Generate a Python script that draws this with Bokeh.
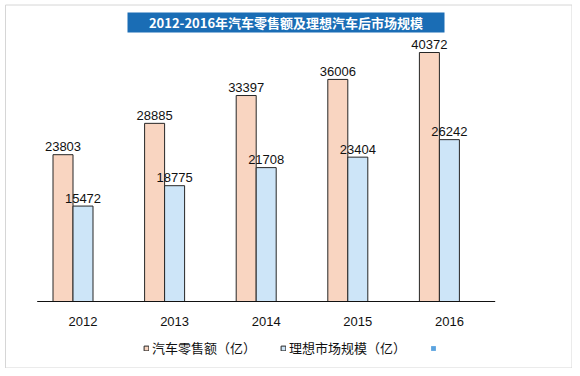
from bokeh.plotting import figure
from bokeh.models import Range1d, ColumnDataSource, Legend, LegendItem
from bokeh.transform import dodge
from bokeh.core.properties import value
from bokeh.embed import file_html
from bokeh.resources import INLINE

# ---- data ----
years = [2012, 2013, 2014, 2015, 2016]
retail = [23803, 28885, 33397, 36006, 40372]
aftermarket = [15472, 18775, 21708, 23404, 26242]
blank_series = [0, 0, 0, 0, 0]
series_names = ["汽车零售额（亿）", "理想市场规模（亿）", " "]
title_text = "2012-2016年汽车零售额及理想汽车后市场规模"

# ---- layout helpers (page pixel -> data coords) ----
CAT_PX = 91.6          # pixels per category
FIRST_CAT_PX = 82.5    # x of first category centre
BASE_PX = 301          # y of zero line
UNIT_PER_PX = 40372 / 249.0
W, H = 572, 368


def dx(px):
    return years[0] + (px - FIRST_CAT_PX) / CAT_PX


def dy(py):
    return (BASE_PX - py) * UNIT_PER_PX


BAR_W = 20 / CAT_PX

p = figure(width=W, height=H,
           x_range=Range1d(dx(0), dx(W)),
           y_range=Range1d(dy(H), dy(0)),
           x_axis_type=None, y_axis_type=None,
           output_backend="svg", toolbar_location=None,
           min_border=0, outline_line_color=None)
p.xgrid.visible = False
p.ygrid.visible = False
p.background_fill_color = "white"
p.border_fill_color = "white"

# outer frame border
p.quad(left=[dx(5)], right=[dx(571.5)], top=[dy(4.5)], bottom=[dy(367.5)],
       fill_color=None, line_color="#d6d6d6", line_width=1)

src = ColumnDataSource(dict(year=years, retail=retail, aftermarket=aftermarket,
                            blank=blank_series,
                            rl=[str(v) for v in retail], al=[str(v) for v in aftermarket]))

r1 = p.vbar(x=dodge("year", -BAR_W), top="retail", width=BAR_W, source=src,
            fill_color="#F9D5C1", line_color="#262626", line_width=1)
r2 = p.vbar(x=dodge("year", 0), top="aftermarket", width=BAR_W, source=src,
            fill_color="#CDE5F8", line_color="#262626", line_width=1)
r3 = p.vbar(x=dodge("year", BAR_W), top="blank", width=BAR_W, source=src,
            fill_color="#5BA3DF", line_color=None)

# baseline
p.segment(x0=[years[0] - 0.5], x1=[years[-1] + 0.5], y0=[0], y1=[0],
          line_color="#111111", line_width=1)

# value labels
lbl_kw = dict(text_align="center", text_baseline="alphabetic", y_offset=-8,
              text_font=value("Liberation Sans"), text_font_size="13px",
              text_color="#111111")
p.text(x=dodge("year", -BAR_W), y="retail", text="rl", source=src, **lbl_kw)
p.text(x=dodge("year", 0), y="aftermarket", text="al", source=src, **lbl_kw)

# category labels
ysrc = ColumnDataSource(dict(year=years, lab=[str(y) for y in years], z=[0] * len(years)))
p.text(x="year", y="z", text="lab", source=ysrc, text_align="center",
       text_baseline="alphabetic", y_offset=20,
       text_font=value("Liberation Sans"), text_font_size="13px", text_color="#111111")

# title box
p.quad(left=[dx(127)], right=[dx(444)], top=[dy(12)], bottom=[dy(32)],
       fill_color="#1A6DB5", line_color=None)
p.text(x=[dx(285.5)], y=[dy(22)], text=[title_text], text_align="center",
       text_baseline="middle", text_color="white",
       text_font=value("Noto Sans CJK SC"), text_font_style="bold",
       text_font_size="13px")

legend = Legend(items=[LegendItem(label=series_names[0], renderers=[r1]),
                       LegendItem(label=series_names[1], renderers=[r2]),
                       LegendItem(label=series_names[2], renderers=[r3])],
                orientation="horizontal", location=(143, 11),
                border_line_color=None, background_fill_alpha=0,
                padding=0, margin=0, spacing=24,
                glyph_width=6, glyph_height=6, label_standoff=3,
                label_height=13, label_text_font_size="13px",
                label_text_font="Noto Sans CJK SC", label_text_color="#111111")
p.add_layout(legend)

open("out.html", "w").write(file_html(p, INLINE))
